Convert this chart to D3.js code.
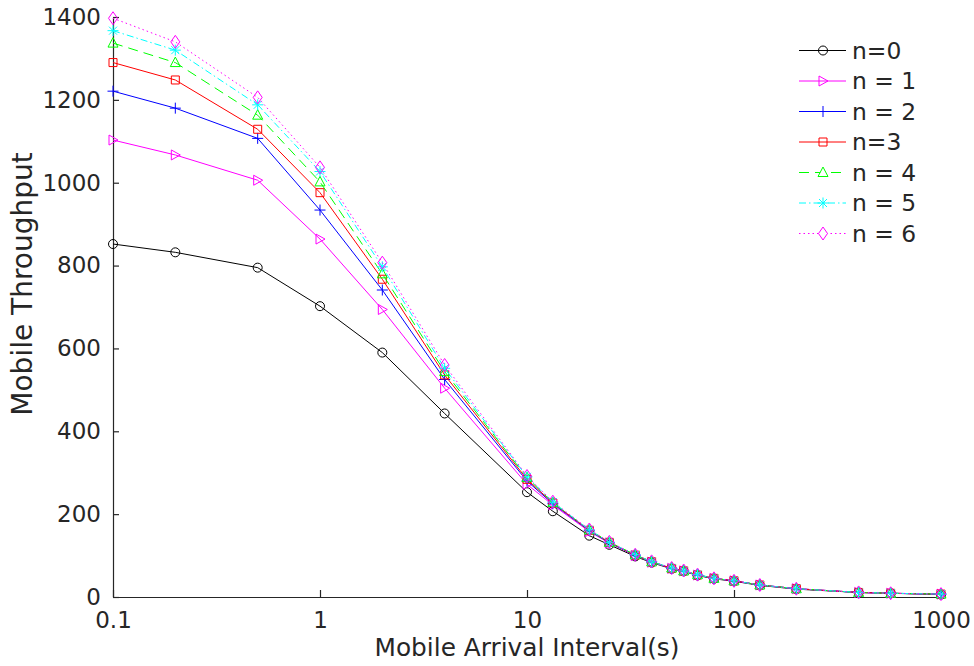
<!DOCTYPE html>
<html>
<head>
<meta charset="utf-8">
<script src="https://cdn.jsdelivr.net/npm/d3@7"></script>
<style>
    body { margin: 0; background: #fff; }
    text { font-family: "DejaVu Sans", sans-serif; fill: #262626; }
</style>
</head>
<body>
<div id="chart"></div>
<script>
// Mobile arrival interval (s), log axis
var intervals = [0.1, 0.2, 0.5, 1, 2, 4, 10, 13.33, 20, 25, 33.33, 40, 50, 57.14, 66.67, 80, 100, 133.3, 200, 400, 571.4, 1000];

// Throughput for each n
var tpN0 = [852, 832, 795, 702, 590, 443, 253, 207, 148, 126, 98, 83, 68, 62, 52, 44, 38, 28, 19, 11, 9, 6];
var tpN1 = [1103, 1067, 1006, 864, 694, 504, 272, 222, 158, 130, 100, 84, 69, 63, 53, 45, 39, 29, 20, 11, 9, 7];
var tpN2 = [1221, 1180, 1107, 934, 741, 525, 280, 225, 160, 131, 101, 85, 69, 63, 53, 45, 39, 29, 20, 11, 9, 7];
var tpN3 = [1290, 1248, 1129, 976, 767, 536, 284, 227, 161, 132, 101, 85, 69, 63, 53, 45, 39, 29, 20, 11, 9, 7];
var tpN4 = [1337, 1290, 1163, 1002, 780, 544, 288, 228, 162, 132, 102, 85, 70, 63, 54, 45, 39, 29, 20, 11, 9, 7];
var tpN5 = [1367, 1320, 1188, 1027, 797, 552, 290, 229, 162, 132, 102, 85, 70, 63, 54, 45, 39, 29, 20, 11, 9, 7];
var tpN6 = [1397, 1340, 1206, 1037, 807, 560, 292, 230, 163, 133, 102, 86, 70, 64, 54, 45, 39, 29, 20, 11, 9, 7];

var seriesNames = ["n=0", "n = 1", "n = 2", "n=3", "n = 4", "n = 5", "n = 6"];

var xTicks = [0.1, 1, 10, 100, 1000];
var yTicks = [0, 200, 400, 600, 800, 1000, 1200, 1400];

var svgWidth = 974;
var svgHeight = 666;

var margin = {
    top: 17,
    right: 33,
    bottom: 69,
    left: 113
};

var width = svgWidth - margin.left - margin.right;
var height = svgHeight - margin.top - margin.bottom;

// style for each series: colour, dash, marker
var styles = [
    { color: "#000000", dash: null, marker: "circle" },
    { color: "#ff00ff", dash: null, marker: "right" },
    { color: "#0000ff", dash: null, marker: "plus" },
    { color: "#ff0000", dash: null, marker: "square" },
    { color: "#00ff00", dash: "10,6", marker: "triangle" },
    { color: "#00ffff", dash: "7,3,1.5,3", marker: "star" },
    { color: "#ff00ff", dash: "1.5,3", marker: "diamond" }
];

function markerPath(type) {
    switch (type) {
        case "circle":
            return "M4.5,0A4.5,4.5 0 1,1 -4.5,0A4.5,4.5 0 1,1 4.5,0Z";
        case "right":
            return "M-4,-5L5,0L-4,5Z";
        case "plus":
            return "M-5.5,0H5.5M0,-5.5V5.5";
        case "square":
            return "M-4,-4H4V4H-4Z";
        case "triangle":
            return "M0,-5.5L5,4L-5,4Z";
        case "star":
            return "M-5.5,0H5.5M0,-5.5V5.5M-4,-4L4,4M-4,4L4,-4";
        case "diamond":
            return "M0,-6.5L4.5,0L0,6.5L-4.5,0Z";
    }
}

var allSeries = [tpN0, tpN1, tpN2, tpN3, tpN4, tpN5, tpN6];

var svgWrapper = d3.select("#chart")
    .append("svg")
    .attr("width", svgWidth)
    .attr("height", svgHeight);

var chartGroup = svgWrapper.append("g")
    .attr("transform", `translate(${margin.left}, ${margin.top})`);

var xScale = d3.scaleLog()
    .domain([0.1, 1000])
    .range([0, width]);

var yScale = d3.scaleLinear()
    .domain([0, 1400])
    .range([height, 0]);

// axes with inward ticks
var bottomAxis = d3.axisBottom(xScale)
    .tickValues(xTicks)
    .tickFormat(d3.format("~g"))
    .tickSizeInner(-7)
    .tickSizeOuter(0)
    .tickPadding(15);

var leftAxis = d3.axisLeft(yScale)
    .tickValues(yTicks)
    .tickFormat(d3.format("d"))
    .tickSizeInner(-6)
    .tickSizeOuter(0)
    .tickPadding(12);

var xAxisG = chartGroup.append("g")
    .attr("transform", `translate(0, ${height})`)
    .call(bottomAxis);

var yAxisG = chartGroup.append("g")
    .call(leftAxis);

[xAxisG, yAxisG].forEach(function (g) {
    g.attr("font-size", 23).attr("font-family", "DejaVu Sans, sans-serif");
    g.selectAll("path, line").attr("stroke", "#262626").attr("stroke-width", 1.2);
    g.selectAll("text").attr("fill", "#262626");
});

var line = d3.line()
    .x(d => xScale(d[0]))
    .y(d => yScale(d[1]));

allSeries.forEach(function (vals, i) {
    var pts = intervals.map((x, j) => [x, vals[j]]);
    var st = styles[i];

    chartGroup.append("path")
        .datum(pts)
        .attr("fill", "none")
        .attr("stroke", st.color)
        .attr("stroke-width", 1)
        .attr("stroke-dasharray", st.dash)
        .attr("d", line);

    chartGroup.selectAll(".m" + i)
        .data(pts)
        .enter()
        .append("path")
        .attr("class", "m" + i)
        .attr("transform", d => `translate(${xScale(d[0])}, ${yScale(d[1])})`)
        .attr("d", markerPath(st.marker))
        .attr("fill", "none")
        .attr("stroke", st.color)
        .attr("stroke-width", 1);
});

// Legend
var legend = svgWrapper.append("g");
seriesNames.forEach(function (name, i) {
    var st = styles[i];
    var ly = 50.5 + i * 30.5;
    legend.append("line")
        .attr("x1", 799).attr("x2", 846)
        .attr("y1", ly).attr("y2", ly)
        .attr("stroke", st.color)
        .attr("stroke-width", 1)
        .attr("stroke-dasharray", st.dash);
    legend.append("path")
        .attr("transform", `translate(823, ${ly})`)
        .attr("d", markerPath(st.marker))
        .attr("fill", st.dash ? "#fff" : "none")
        .attr("stroke", st.color)
        .attr("stroke-width", 1);
    legend.append("text")
        .attr("x", 852)
        .attr("y", ly)
        .attr("dy", "0.36em")
        .attr("font-size", 23.4)
        .text(name);
});

// Axis labels
chartGroup.append("text")
    .attr("transform", `translate(${width / 2}, ${height + 59})`)
    .attr("text-anchor", "middle")
    .attr("font-size", 24.8)
    .text("Mobile Arrival Interval(s)");

svgWrapper.append("text")
    .attr("transform", "translate(32, 284) rotate(-90)")
    .attr("text-anchor", "middle")
    .attr("font-size", 28)
    .text("Mobile Throughput");
</script>
</body>
</html>
